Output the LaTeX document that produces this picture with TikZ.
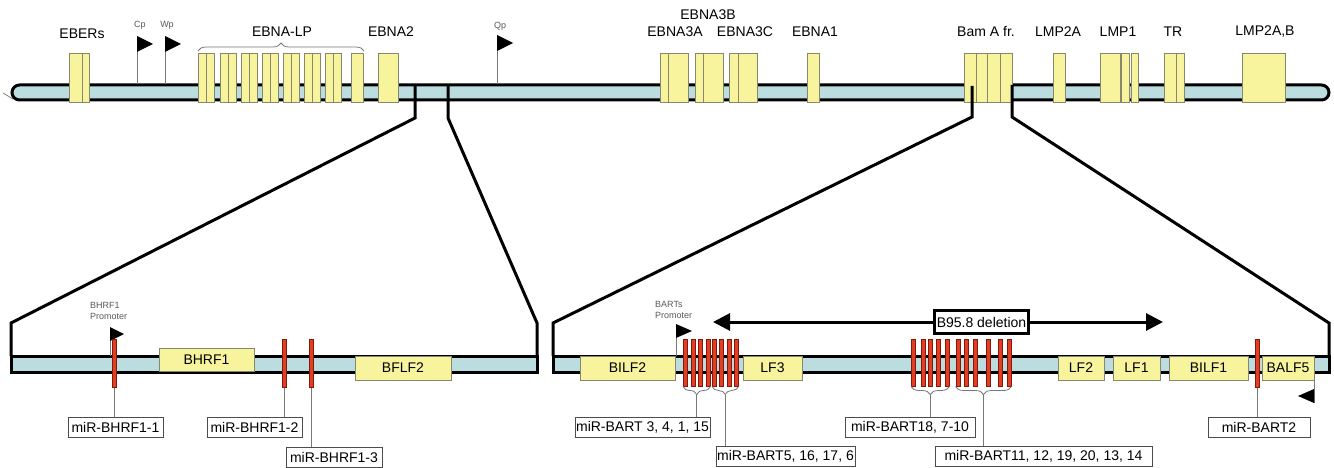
\documentclass[tikz,border=0pt]{standalone}
\usepackage{fontspec}
\setmainfont{Liberation Sans}
\usetikzlibrary{arrows.meta,decorations.pathreplacing}
\definecolor{barblue}{RGB}{188,221,224}
\definecolor{geneyel}{RGB}{248,244,158}
\definecolor{geneedge}{RGB}{135,135,110}
\definecolor{mirred}{RGB}{228,62,34}
\definecolor{miredge}{RGB}{130,25,15}
\definecolor{leadgray}{RGB}{120,120,120}
\definecolor{smallgray}{RGB}{90,90,90}
\tikzset{
 dna/.style={fill=barblue, draw=black, line width=3pt},
 gene/.style={fill=geneyel, draw=geneedge, line width=0.7pt},
 genebox/.style={gene, rectangle, inner sep=0pt, font=\fontsize{14}{16}\selectfont},
 mirbar/.style={fill=mirred, draw=miredge, line width=0.6pt, rectangle, inner sep=0pt, minimum width=4.5pt},
 zoomline/.style={draw=black, line width=3pt, line join=miter},
 leader/.style={draw=leadgray, line width=0.9pt},
 flagpole/.style={draw=leadgray, line width=1pt},
 toplabel/.style={font=\fontsize{14}{16}\selectfont, inner sep=0pt},
 smalllabel/.style={font=\fontsize{9}{11}\selectfont, text=smallgray, inner sep=0pt},
 mirlabel/.style={draw=black!70, line width=0.7pt, fill=white, rectangle, inner sep=0pt, minimum height=20pt, font=\fontsize{14}{16}\selectfont},
 brc/.style={draw=leadgray, line width=0.8pt, decorate, decoration={brace, amplitude=8pt}},
 delbox/.style={draw=black, line width=3pt, fill=white, rectangle, inner sep=0pt, minimum width=94pt, minimum height=23pt, font=\fontsize{14}{16}\selectfont},
 delarrow/.style={line width=3pt, -{Triangle[length=17pt,width=17pt]}},
}
\newcommand\gbx[2]{\path[gene] (#1,53) rectangle (#2,102);}
\newcommand\gnode[6]{\node[genebox, minimum width={(#3-#2)*1pt}, minimum height={(#5-#4)*1pt}] (#1) at ({(#2+#3)/2},{(#4+#5)/2}) {#6};}
\begin{document}
\begin{tikzpicture}[x=1pt,y=-1pt]
\fill[white] (0,0) rectangle (1334,468);
\useasboundingbox (0,0) rectangle (1334,468);

% ---------- top genome ----------
\draw[leadgray, line width=0.7pt] (3,93) -- (13,99);
\draw[dna, rounded corners=7.5pt] (12,85) rectangle (1329,100);

% promoters top
\draw[flagpole] (137,37) -- (137,84); \fill (137,36) -- (153,44) -- (137,52) -- cycle;
\node[smalllabel] (cp) at (140,25.5) {Cp};
\draw[flagpole] (165,37) -- (165,84); \fill (165,36) -- (181,44) -- (165,52) -- cycle;
\node[smalllabel] (wp) at (167,25.5) {Wp};
\draw[flagpole] (497,36) -- (497,84); \fill (497,35) -- (513,43) -- (497,51) -- cycle;
\node[smalllabel] (qp) at (500,26) {Qp};

% genes top
\gbx{69}{82}\gbx{82}{89}
\gbx{198}{206}\gbx{206}{214}
\gbx{220}{228}\gbx{228}{236}
\gbx{241}{249}\gbx{249}{257}
\gbx{262}{270}\gbx{270}{278}
\gbx{283}{291}\gbx{291}{299}
\gbx{304}{312}\gbx{312}{320}
\gbx{325}{333}\gbx{333}{341}
\gbx{351}{363}
\gbx{378}{398}
\gbx{660}{668}\gbx{668}{688}
\gbx{695}{703}\gbx{703}{723}
\gbx{729}{738}\gbx{738}{757}
\gbx{807}{819}
\gbx{964}{976}\gbx{976}{987}\gbx{987}{1000}\gbx{1000}{1012}
\gbx{1053}{1065}
\gbx{1100}{1120}\gbx{1121}{1129}\gbx{1131}{1138}
\gbx{1164}{1176}\gbx{1176}{1184}
\gbx{1242}{1285}

\draw[brc] (198,51) -- (364,51);

\node[toplabel] (ebers) at (82,34) {EBERs};
\node[toplabel] (ebnalp) at (282,32) {EBNA-LP};
\node[toplabel] (ebna2) at (391,32) {EBNA2};
\node[toplabel] (ebna3b) at (708,15) {EBNA3B};
\node[toplabel] (ebna3a) at (675,32) {EBNA3A};
\node[toplabel] (ebna3c) at (745,32) {EBNA3C};
\node[toplabel] (ebna1) at (815,32) {EBNA1};
\node[toplabel] (bama) at (986,32) {Bam A fr.};
\node[toplabel] (lmp2a) at (1058,32) {LMP2A};
\node[toplabel] (lmp1) at (1118,32) {LMP1};
\node[toplabel] (tr) at (1173,32) {TR};
\node[toplabel] (lmp2ab) at (1265,32) {LMP2A,B};

% ---------- zoom lines ----------
\draw[zoomline] (415,85) -- (415,118) -- (11,323) -- (11,356);
\draw[zoomline] (448,85) -- (448,118) -- (537,323) -- (537,356);
\draw[zoomline] (972,86) -- (972,117) -- (553,323) -- (553,356);
\draw[zoomline] (1012,85) -- (1012,117) -- (1329,323) -- (1329,356);

% ---------- lower bars ----------
\draw[dna] (11,356) rectangle (537,372);
\draw[dna] (553,356) rectangle (1329,372);

\gnode{bhrf}{159}{254}{348}{371}{BHRF1}
\gnode{bflf}{355}{451}{356}{380}{BFLF2}
\gnode{bilf2}{580}{675}{356}{380}{BILF2}
\gnode{lf3}{743}{802}{356}{380}{LF3}
\gnode{lf2}{1058}{1104}{356}{380}{LF2}
\gnode{lf1}{1113}{1160}{356}{380}{LF1}
\gnode{bilf1}{1169}{1248}{356}{380}{BILF1}
\gnode{balf5}{1262}{1314}{356}{380}{BALF5}

% promoters lower
\draw[flagpole] (110,328) -- (110,356); \fill (110,327) -- (124,334) -- (110,341) -- cycle;
\node[smalllabel, align=left, anchor=west] (bhrfprom) at (90,311) {BHRF1\\Promoter};
\draw[flagpole] (676,326) -- (676,356); \fill (676,324) -- (692,331) -- (676,338) -- cycle;
\node[smalllabel, align=left, anchor=west] (bartprom) at (655,310) {BARTs\\Promoter};
\draw[flagpole] (1314,380) -- (1314,403); \fill (1314,389) -- (1298,396) -- (1314,403) -- cycle;

% B95.8 deletion
\node[delbox] (del) at (981.5,322) {B95.8 deletion};
\coordinate (delL) at (713,322);
\coordinate (delR) at (1163,322);
\draw[delarrow] (del.west) -- (delL);
\draw[delarrow] (del.east) -- (delR);

% miRNA bars
\node[mirbar, minimum height=48pt] (h1) at (114.5,363.5) {};
\node[mirbar, minimum height=48pt] (h2) at (284.5,363.5) {};
\node[mirbar, minimum height=48pt] (h3) at (311.5,363.5) {};
\node[mirbar, minimum height=48pt] (b2) at (1257.5,363.5) {};
\foreach \x [count=\i] in {683,691,698,706,712,719,727,734}
  \node[mirbar, minimum height=47pt] (c1m\i) at ({\x+2.25},362.5) {};
\foreach \x [count=\i] in {911,921,928,936,945,956,964,973,986,998,1007}
  \node[mirbar, minimum height=47pt] (c2m\i) at ({\x+2.25},362.5) {};

% braces
\draw[brc] (710.5,386.5) -- (683,386.5);
\draw[brc] (738.5,386.5) -- (712,386.5);
\draw[brc] (949.5,386.5) -- (911,386.5);
\draw[brc] (1011.5,386.5) -- (955.5,386.5);
\coordinate (t1) at (696.75,394.5);
\coordinate (t2) at (725.25,394.5);
\coordinate (t3) at (930.25,394.5);
\coordinate (t4) at (983.5,394.5);

% labels
\node[mirlabel, minimum width=95pt] (lh1) at (115.5,427) {miR-BHRF1-1};
\node[mirlabel, minimum width=95pt] (lh2) at (254.5,427) {miR-BHRF1-2};
\node[mirlabel, minimum width=96pt] (lh3) at (334,457) {miR-BHRF1-3};
\node[mirlabel, minimum width=135pt] (lb1) at (642.5,427) {miR-BART 3, 4, 1, 15};
\node[mirlabel, minimum width=139pt] (lb2) at (785.5,456.5) {miR-BART5, 16, 17, 6};
\node[mirlabel, minimum width=130pt] (lb3) at (910,427) {miR-BART18, 7-10};
\node[mirlabel, minimum width=217pt] (lb4) at (1043.5,456.5) {miR-BART11, 12, 19, 20, 13, 14};
\node[mirlabel, minimum width=102pt] (lb5) at (1259,427) {miR-BART2};

\draw[leader] (h1.south) -- (lh1.north -| h1.south);
\draw[leader] (h2.south) -- (lh2.north -| h2.south);
\draw[leader] (h3.south) -- (lh3.north -| h3.south);
\draw[leader] (b2.south) -- (lb5.north -| b2.south);
\draw[leader] (t1) -- (lb1.north -| t1);
\draw[leader] (t2) -- (lb2.north -| t2);
\draw[leader] (t3) -- (lb3.north -| t3);
\draw[leader] (t4) -- (lb4.north -| t4);
\end{tikzpicture}
\end{document}
